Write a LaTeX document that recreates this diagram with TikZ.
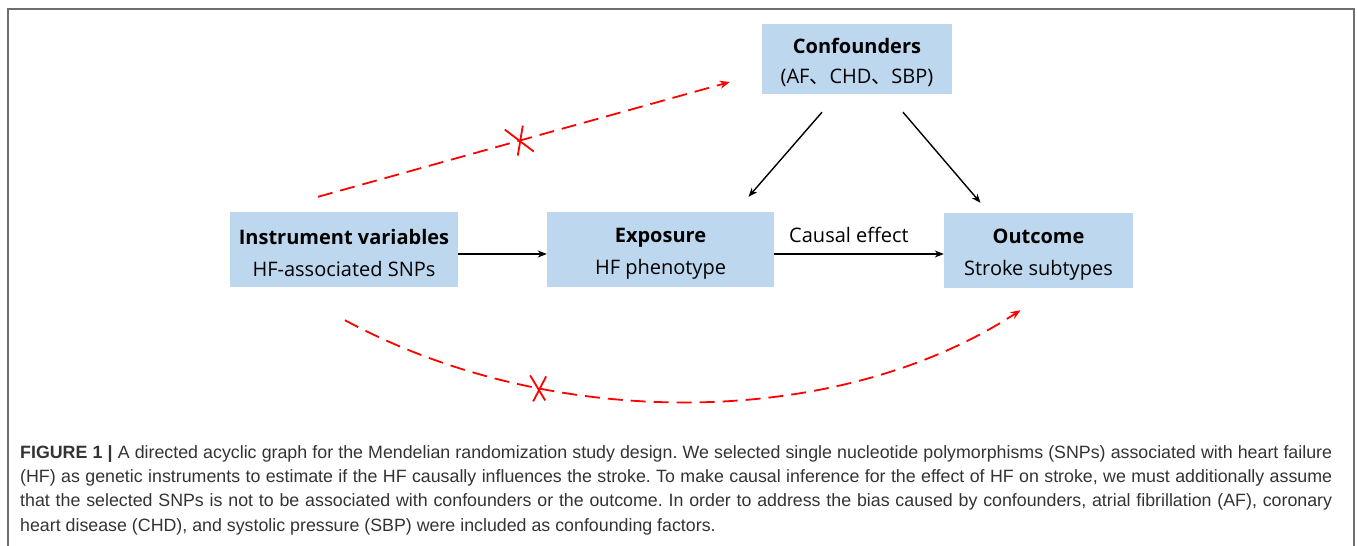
\documentclass[tikz,border=0pt]{standalone}
\usepackage{fontspec}
\setmainfont{Open Sans}
\newfontfamily\capfont{Liberation Sans}
\newfontfamily\cjk{Noto Sans CJK SC}
\usetikzlibrary{arrows.meta,calc}
\definecolor{boxblue}{HTML}{BDD7EE}
\definecolor{captext}{HTML}{333333}
\definecolor{framegray}{HTML}{6E6E6E}
\newcommand{\toppad}{\rule{0pt}{23pt}}

\begin{document}
\begin{tikzpicture}[x=1pt,y=-1pt,
  varbox/.style={fill=boxblue,align=center,inner sep=0pt,font=\fontsize{20}{32}\selectfont},
  causal/.style={-{Stealth[length=9pt,width=7pt]},line width=1.4pt},
  nolink/.style={red,line width=1.8pt,dash pattern=on 15pt off 8pt,-{Stealth[length=10pt,width=8pt]}},
  cut/.style={red,line width=1.8pt}]
\useasboundingbox (0,0) rectangle (1357,546);
\draw[framegray,line width=1.6pt] (8,548) -- (8,9) -- (1354,9) -- (1354,548); % frame
% variables
\node[varbox,minimum width=190pt,minimum height=70pt,font=\fontsize{20}{30}\selectfont] (conf) at (857,59)
  {\toppad\textbf{Confounders}\\(AF{\cjk 、}CHD{\cjk 、}SBP)};
\node[varbox,minimum width=228pt,minimum height=75pt] (instr) at (344,249.5)
  {\toppad\textbf{Instrument variables}\\HF-associated SNPs};
\node[varbox,minimum width=227pt,minimum height=75pt] (expo) at (660.5,249.5)
  {\toppad\textbf{Exposure}\\HF phenotype};
\node[varbox,minimum width=189pt,minimum height=75pt] (outc) at (1038.5,250.5)
  {\toppad\textbf{Outcome}\\Stroke subtypes};
% causal paths
\draw[causal] (instr.east |- 0,254) -- (expo.west |- 0,254);
\draw[causal] (expo.east |- 0,254) -- node[above=7pt,xshift=-10pt,font=\fontsize{20}{24}\selectfont] {Causal effect} (outc.west |- 0,254);
\coordinate (c1) at ($(conf.south)+(-35,18)$);
\coordinate (e1) at ($(expo.north)+(88,-15)$);
\coordinate (c2) at ($(conf.south)+(46,18)$);
\coordinate (o1) at ($(outc.north)+(-58,-10)$);
\draw[causal] (c1) -- (e1);
\draw[causal] (c2) -- (o1);
% excluded paths
\coordinate (i1) at ($(instr.north)+(-26,-15)$);
\coordinate (k1) at ($(conf.west)+(-32,23)$);
\draw[nolink] (i1) -- coordinate[pos=0.49] (cut1) (k1);
\coordinate (i2) at ($(instr.south)+(1,33)$);
\coordinate (o2) at ($(outc.south)+(-18,22)$);
\draw[nolink] (i2) .. controls (550,431) and (835,431) .. coordinate[pos=0.29] (cut2) (o2);
\draw[cut] ($(cut1)+(-15,-11)$) -- ($(cut1)+(14,11)$);
\draw[cut] ($(cut1)+(3,-15)$) -- ($(cut1)+(-2,15)$);
\draw[cut] ($(cut2)+(-9,-13)$) -- ($(cut2)+(6,12)$);
\draw[cut] ($(cut2)+(7,-12)$) -- ($(cut2)+(-6,13)$);
% caption
\node[anchor=north west,text width=1312pt,align=justify,inner sep=0pt,text=captext,
  font=\capfont\fontsize{17.8}{24.3}\selectfont\frenchspacing] (caption) at (20,445)
  {\textbf{FIGURE 1 |} A directed acyclic graph for the Mendelian randomization study design. We selected single nucleotide polymorphisms (SNPs) associated with heart failure\linebreak
  (HF) as genetic instruments to estimate if the HF causally influences the stroke. To make causal inference for the effect of HF on stroke, we must additionally assume\linebreak
  that the selected SNPs is not to be associated with confounders or the outcome. In order to address the bias caused by confounders, atrial fibrillation (AF), coronary\linebreak
  heart disease (CHD), and systolic pressure (SBP) were included as confounding factors.};
\end{tikzpicture}
\end{document}
